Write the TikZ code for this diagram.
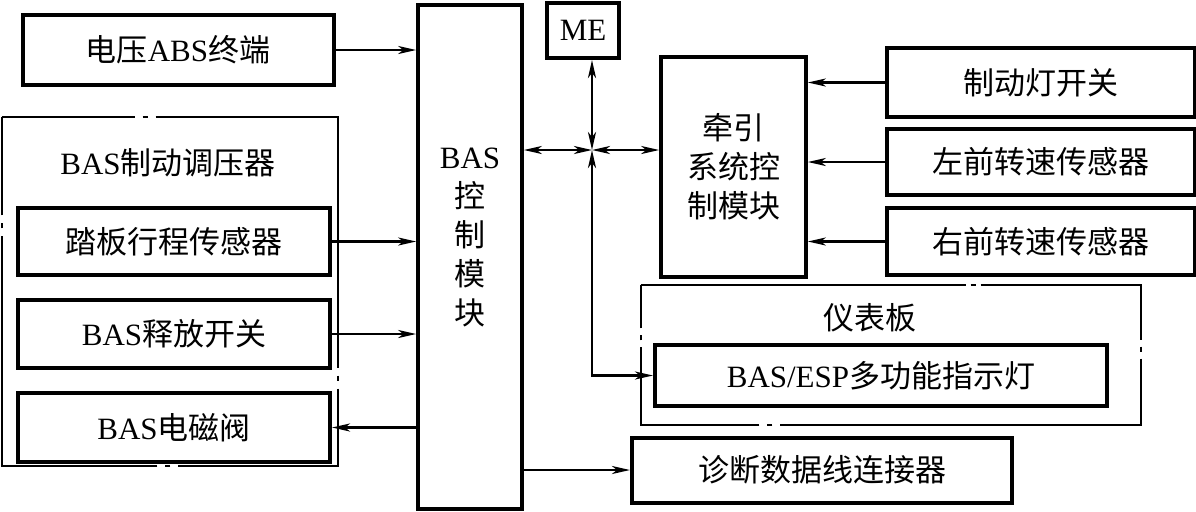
\documentclass[tikz,border=0pt]{standalone}
\usepackage{fontspec}
\setmainfont{Liberation Serif}
\newfontfamily\cjk{Noto Sans CJK SC}
\usetikzlibrary{arrows.meta}
\begin{document}
\begin{tikzpicture}[x=0.5pt,y=-0.5pt,
  font=\fontsize{15.5pt}{19.5pt}\selectfont,
  bx/.style n args={2}{draw, line width=2pt, minimum width=#1*0.5pt, minimum height=#2*0.5pt, inner sep=0pt, align=center},
  frm/.style n args={2}{minimum width=#1*0.5pt, minimum height=#2*0.5pt, inner sep=0pt},
  frmline/.style={line width=1pt},
  tip/.tip={Stealth[length=9pt,width=4pt,inset=2.5pt]},
  arr/.style={line width=1.2pt, -tip},
  darr/.style={line width=1.2pt, tip-tip},
  lbl/.style={inner sep=0pt, align=center}]
\useasboundingbox (0,0) rectangle (1196,511);
% left side
\node[bx={311}{70}] (volt) at (178,50) {{\cjk 电压}ABS{\cjk 终端}};
\node[frm={336}{349}] (grp1) at (170,291.5) {};
\draw[frmline] (grp1.north west) -- ++(133,0) ++(8,0) -- ++(5,0) ++(8,0)
  -- (grp1.north east) -- ++(0,251) ++(0,8) -- ++(0,5) ++(0,8)
  -- (grp1.south east) -- ++(-160,0) ++(-8,0) -- ++(-5,0) ++(-8,0)
  -- (grp1.south west) -- ++(0,-230) ++(0,-8) -- ++(0,-5) ++(0,-8)
  -- (grp1.north west);
\node[lbl] (grp1t) at (168,163) {BAS{\cjk 制动调压器}};
\node[bx={312}{67}] (pedal) at (174,241.5) {\cjk 踏板行程传感器};
\node[bx={312}{68}] (rel) at (174,334) {BAS{\cjk 释放开关}};
\node[bx={312}{69}] (sol) at (174,427.5) {BAS{\cjk 电磁阀}};
% control module
\node[bx={104}{504}, line width=1.8pt] (ctrl) at (470,257) {};
\node[lbl] (ctrlt) at (470,237) {BAS\\{\cjk 控}\\{\cjk 制}\\{\cjk 模}\\{\cjk 块}};
% ME and traction
\node[bx={72}{55}] (me) at (583,30.5) {ME};
\coordinate (J) at (592,150);
\node[bx={145}{220}, line width=1.8pt] (tcm) at (733.5,167) {\cjk 牵引\\\cjk 系统控\\\cjk 制模块};
\node[bx={308}{69}] (brk) at (1041,82.5) {\cjk 制动灯开关};
\node[bx={308}{66}] (lws) at (1041,162) {\cjk 左前转速传感器};
\node[bx={308}{67}] (rws) at (1041,241.5) {\cjk 右前转速传感器};
% instrument panel
\node[frm={500}{140}] (grp2) at (891,355) {};
\draw[frmline] (grp2.north west) -- ++(325,0) ++(5,0) -- ++(5,0) ++(5,0)
  -- (grp2.north east) -- ++(0,55) ++(0,7) -- ++(0,5) ++(0,7)
  -- (grp2.south east) -- ++(-361,0) ++(-8,0) -- ++(-5,0) ++(-8,0)
  -- (grp2.south west) -- ++(0,-78) ++(0,-7) -- ++(0,-5) ++(0,-7)
  -- (grp2.north west);
\node[lbl] (grp2t) at (870,318) {\cjk 仪表板};
\node[bx={452}{61}] (esp) at (881,375.5) {BAS/ESP{\cjk 多功能指示灯}};
\node[bx={380}{65}] (diag) at (822,470) {\cjk 诊断数据线连接器};
% connectors
\draw[arr] (volt.east) -- (volt.east -| ctrl.west);
\draw[arr] (pedal.east) -- (pedal.east -| ctrl.west);
\draw[arr] (rel.east) -- (rel.east -| ctrl.west);
\draw[arr] (sol.east -| ctrl.west) -- (sol.east);
\draw[arr] (diag.west -| ctrl.east) -- (diag.west);
\draw[darr] (J -| ctrl.east) -- (J);
\draw[darr] (J) -- (J -| tcm.west);
\draw[darr] (J) -- (me.south -| J);
\draw[darr] (J) -- (J |- esp.west) -- (esp.west);
\draw[arr] (brk.west) -- (brk.west -| tcm.east);
\draw[arr] (lws.west) -- (lws.west -| tcm.east);
\draw[arr] (rws.west) -- (rws.west -| tcm.east);
\end{tikzpicture}
\end{document}
